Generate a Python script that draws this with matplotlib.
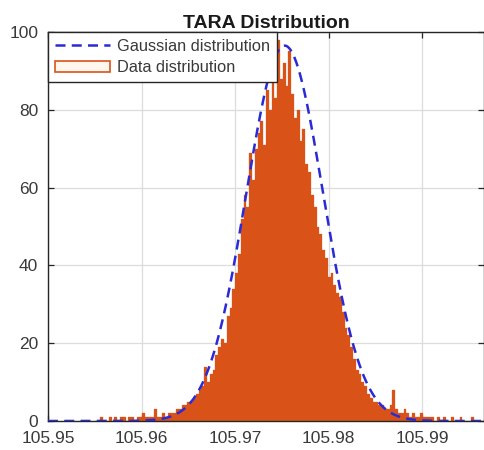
import matplotlib
matplotlib.use("Agg")
import matplotlib.pyplot as plt
import numpy as np
from matplotlib.patches import Patch
from matplotlib.lines import Line2D

# ---- data ----
bin_start = 105.9550
bin_width = 0.0003
counts = [
    0, 0, 1, 0, 0, 1, 0, 1, 0, 1,
    1, 0, 1, 1, 0, 1, 1, 2, 1, 1,
    1, 3, 1, 1, 2, 1, 2, 2, 2, 3,
    3, 4, 4, 5, 5, 6, 7, 8, 9, 14,
    10, 12, 13, 17, 19, 21, 20, 27, 29, 34,
    38, 43, 52, 58, 55, 69, 62, 70, 74, 77,
    71, 85, 80, 88, 83, 98, 88, 92, 86, 95,
    84, 78, 80, 72, 75, 66, 64, 58, 55, 50,
    48, 44, 42, 37, 38, 35, 33, 32, 28, 24,
    22, 19, 16, 13, 12, 10, 9, 7, 6, 5,
    5, 4, 4, 3, 3, 4, 8, 3, 2, 2,
    3, 2, 1, 2, 1, 1, 2, 1, 1, 1,
    1, 0, 1, 0, 1, 0, 0, 1, 0, 0,
    1, 0, 0, 0, 1, 0, 0, 0, 0, 0,
]
gauss_mu = 105.9753
gauss_sigma = 0.0041
gauss_peak = 96.5

x_ticks = [105.95, 105.96, 105.97, 105.98, 105.99]
x_tick_labels = ["105.95", "105.96", "105.97", "105.98", "105.99"]
y_ticks = [0, 20, 40, 60, 80, 100]
x_limits = (105.95, 105.9966)
y_limits = (0, 100)

title = "TARA Distribution"
label_gauss = "Gaussian distribution"
label_data = "Data distribution"

# ---- style ----
plt.rcParams['font.family'] = ['Liberation Sans', 'DejaVu Sans']
orange = "#D95319"
blue = "#2a2ad6"
text_col = "#3a3a3a"

fig = plt.figure(figsize=(4.85, 4.5), dpi=100)
ax = fig.add_axes([48 / 485, 1 - 421 / 450, 436 / 485, 389 / 450])

centers = bin_start + bin_width * (np.arange(len(counts)) + 0.5)
ax.bar(centers, counts, width=bin_width, color=orange, edgecolor=orange,
       linewidth=0.2, zorder=2)

xs = np.linspace(x_limits[0], x_limits[1], 600)
ys = gauss_peak * np.exp(-(xs - gauss_mu) ** 2 / (2 * gauss_sigma ** 2))
ax.plot(xs, ys, color=blue, lw=1.8, dashes=(4, 2.5), zorder=3)

ax.set_xlim(*x_limits)
ax.set_ylim(*y_limits)
ax.set_xticks(x_ticks)
ax.set_xticklabels(x_tick_labels)
ax.set_yticks(y_ticks)
ax.grid(True, color="#dcdcdc", lw=0.9, zorder=0)
ax.set_axisbelow(True)

ax.tick_params(direction="in", length=4, width=0.9, colors="#262626",
               labelcolor=text_col, labelsize=12.5, top=True, right=True)
ax.tick_params(axis="x", pad=7)
ax.tick_params(axis="y", pad=7)
for sp in ax.spines.values():
    sp.set_color("#262626")
    sp.set_linewidth(1.0)

ax.set_title(title, fontsize=14, fontweight="bold", color="#1a1a1a", pad=3)

handles = [
    Line2D([0], [0], color=blue, lw=1.8, dashes=(4, 2.5)),
    Patch(facecolor="#fff6ee", edgecolor=orange, linewidth=1.2),
]
leg = ax.legend(handles, [label_gauss, label_data], loc="upper left",
                borderaxespad=0.0, fancybox=False, framealpha=1,
                edgecolor="#262626", fontsize=11.8, handlelength=3.4,
                handletextpad=0.4, borderpad=0.4, labelspacing=0.4,
                labelcolor=text_col)
leg.get_frame().set_linewidth(1.0)
leg.set_zorder(5)

fig.savefig("out.png", dpi=100)
